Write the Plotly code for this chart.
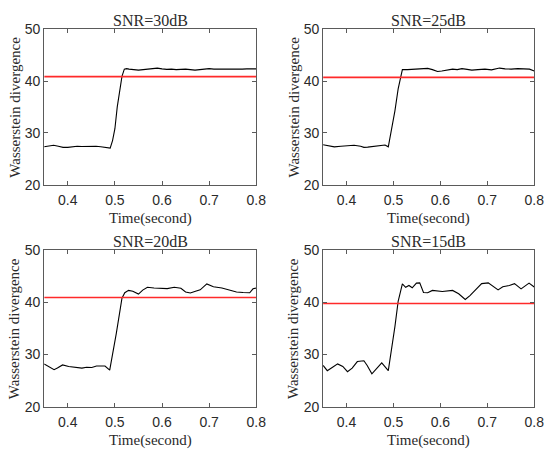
import plotly.graph_objects as go

# ---------------- data ----------------
titles = ["SNR=30dB", "SNR=25dB", "SNR=20dB", "SNR=15dB"]
thresholds = [40.85, 40.7, 40.95, 39.8]

t30 = [0.35, 0.36, 0.37, 0.38, 0.39, 0.40, 0.41, 0.42, 0.43, 0.44, 0.45, 0.46, 0.47, 0.48, 0.49,
       0.495, 0.50, 0.505, 0.51, 0.515, 0.52, 0.525, 0.53, 0.54, 0.55, 0.56, 0.57, 0.58, 0.59, 0.60,
       0.61, 0.62, 0.63, 0.64, 0.65, 0.66, 0.67, 0.68, 0.69, 0.70, 0.71, 0.72, 0.73, 0.74, 0.75,
       0.76, 0.77, 0.78, 0.79, 0.80]
v30 = [27.3, 27.5, 27.6, 27.4, 27.2, 27.2, 27.3, 27.4, 27.35, 27.4, 27.45, 27.4, 27.3, 27.2, 27.05,
       28.5, 30.8, 35.0, 38.5, 40.9, 42.3, 42.4, 42.3, 42.2, 42.1, 42.2, 42.3, 42.4, 42.5, 42.35,
       42.25, 42.3, 42.2, 42.25, 42.3, 42.2, 42.1, 42.2, 42.35, 42.4, 42.3, 42.35, 42.3, 42.3, 42.25,
       42.3, 42.3, 42.35, 42.3, 42.35]

t25 = [0.35, 0.36, 0.374, 0.388, 0.40, 0.416, 0.43, 0.437, 0.445, 0.458, 0.468, 0.475, 0.482, 0.489,
       0.496, 0.503, 0.510, 0.514, 0.519, 0.53, 0.54, 0.555, 0.565, 0.573, 0.583, 0.594, 0.603, 0.612,
       0.62, 0.626, 0.636, 0.646, 0.657, 0.667, 0.68, 0.695, 0.709, 0.718, 0.726, 0.738, 0.751, 0.765,
       0.779, 0.79, 0.80]
v25 = [27.7, 27.5, 27.3, 27.4, 27.45, 27.6, 27.4, 27.2, 27.25, 27.4, 27.6, 27.7, 27.65, 27.3,
       30.5, 34.2, 38.5, 40.3, 42.2, 42.2, 42.25, 42.3, 42.35, 42.45, 42.2, 41.85, 41.95, 42.1,
       42.3, 42.3, 42.2, 42.4, 42.25, 42.1, 42.2, 42.3, 42.15, 42.3, 42.5, 42.35, 42.3, 42.4,
       42.4, 42.3, 41.95]

t20 = [0.35, 0.36, 0.371, 0.378, 0.389, 0.402, 0.416, 0.43, 0.44, 0.451, 0.461, 0.47, 0.479, 0.489,
       0.496, 0.503, 0.510, 0.515, 0.521, 0.529, 0.538, 0.55, 0.559, 0.569, 0.583, 0.597, 0.611, 0.626,
       0.64, 0.65, 0.66, 0.671, 0.681, 0.695, 0.709, 0.727, 0.744, 0.758, 0.772, 0.786, 0.793, 0.80]
v20 = [28.2, 27.7, 27.1, 27.4, 28.0, 27.7, 27.55, 27.4, 27.55, 27.5, 27.8, 27.85, 27.8, 27.0,
       30.4, 34.05, 38.0, 40.8, 41.85, 42.3, 42.15, 41.6, 42.35, 42.9, 42.75, 42.7, 42.65, 42.9,
       42.7, 42.0, 41.8, 42.15, 42.4, 43.55, 43.0, 42.75, 42.35, 42.0, 41.9, 41.85, 42.6, 42.75]

t15 = [0.35, 0.359, 0.371, 0.381, 0.392, 0.402, 0.412, 0.423, 0.437, 0.444, 0.454, 0.465, 0.475,
       0.489, 0.496, 0.503, 0.510, 0.519, 0.526, 0.533, 0.540, 0.549, 0.556, 0.564, 0.573, 0.583,
       0.604, 0.626, 0.639, 0.653, 0.663, 0.674, 0.688, 0.702, 0.713, 0.723, 0.733, 0.747, 0.758,
       0.772, 0.789, 0.80]
v15 = [27.9, 26.9, 27.6, 28.2, 27.7, 26.7, 27.4, 28.65, 28.8, 27.9, 26.3, 27.4, 28.4,
       26.9, 30.7, 35.3, 40.2, 43.55, 42.9, 43.25, 42.8, 43.7, 43.75, 41.9, 41.85, 42.3,
       42.1, 42.3, 41.65, 40.55, 41.3, 42.35, 43.6, 43.75, 43.1, 42.4, 43.0, 43.25, 43.6,
       42.6, 43.7, 42.95]

xs = [t30, t25, t20, t15]
ys = [v30, v25, v20, v15]

x_ticks = [0.4, 0.5, 0.6, 0.7, 0.8]
y_ticks = [20, 30, 40, 50]
x_label = "Time(second)"
y_label = "Wasserstein divergence"

# ---------------- layout ----------------
W, H = 556, 460
# plot areas in pixels: (left, right, top, bottom)
boxes = [(45, 261, 22, 183), (329, 544, 22, 183), (45, 261, 251, 413), (329, 544, 251, 413)]

fig = go.Figure()
serif = "Liberation Serif"
sans = "Liberation Sans"
axis_col = "#5a5a5a"
text_col = "#2a2a2a"
annotations = []

for i in range(4):
    n = "" if i == 0 else str(i + 1)
    xa, ya = "x" + n, "y" + n
    l, r, t, b = boxes[i]
    fig.add_trace(go.Scatter(x=xs[i], y=ys[i], mode="lines", xaxis=xa, yaxis=ya,
                             line=dict(color="black", width=1.1), showlegend=False))
    fig.add_trace(go.Scatter(x=[0.35, 0.8], y=[thresholds[i], thresholds[i]], mode="lines",
                             xaxis=xa, yaxis=ya, line=dict(color="#ff2a2a", width=1.6),
                             showlegend=False))
    common = dict(showline=True, linecolor=axis_col, linewidth=1, mirror="ticks",
                  ticks="inside", ticklen=4, tickcolor=axis_col, showgrid=False,
                  zeroline=False, tickfont=dict(family=sans, size=14, color=text_col))
    fig.layout["xaxis" + n] = dict(domain=[l / W, r / W], range=[0.35, 0.8], anchor=ya,
                                   tickvals=x_ticks, ticktext=[f"{v:.1f}" for v in x_ticks],
                                   ticklabelstandoff=3, **common)
    fig.layout["yaxis" + n] = dict(domain=[1 - b / H, 1 - t / H], range=[20, 50], anchor=xa,
                                   tickvals=y_ticks, **common)
    cx = (l + r) / 2 / W
    annotations.append(dict(text=titles[i], x=cx, y=1 - (t - 9) / H, xref="paper", yref="paper",
                            showarrow=False, xanchor="center", yanchor="middle",
                            font=dict(family=serif, size=16, color=text_col)))
    annotations.append(dict(text=x_label, x=cx, y=1 - (b + 35) / H, xref="paper", yref="paper",
                            showarrow=False, xanchor="center", yanchor="middle",
                            font=dict(family=serif, size=15, color=text_col)))
    annotations.append(dict(text=y_label, x=(l - 30) / W, y=1 - (t + b) / 2 / H, xref="paper",
                            yref="paper", showarrow=False, xanchor="center", yanchor="middle",
                            textangle=-90, font=dict(family=serif, size=15, color=text_col)))

fig.update_layout(width=W, height=H, autosize=False, margin=dict(l=0, r=0, t=0, b=0),
                  plot_bgcolor="white", paper_bgcolor="white", annotations=annotations)

fig.write_html("out.html")
